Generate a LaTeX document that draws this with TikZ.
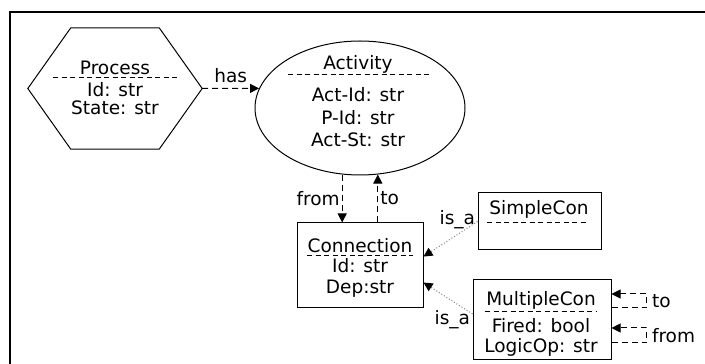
\documentclass[tikz,border=0pt]{standalone}
\usepackage{fontspec}
\setmainfont{DejaVu Sans}
\usetikzlibrary{arrows.meta,shapes.geometric,calc}

\tikzset{
  classbox/.style={draw, line width=1pt, inner sep=0pt},
  txt/.style={font=\fontsize{18.5}{22}\selectfont, inner sep=0pt, anchor=base},
  lbl/.style={font=\fontsize{18.5}{22}\selectfont, inner sep=2pt, text=black},
  uline/.style={dash pattern=on 5pt off 3.5pt, line width=0.8pt},
  dep/.style={dash pattern=on 6pt off 4pt, line width=1pt,
    -{Triangle[length=9pt,width=9pt]}},
  isa/.style={dotted, gray, line width=1pt,
    -{Triangle[length=9pt,width=9pt,color=black]}}
}

\begin{document}
\begin{tikzpicture}[x=1pt,y=1pt]
  \useasboundingbox (0,0) rectangle (705,364);
  % frame
  \draw[line width=2.5pt] (10,-5) -- (10,352) -- (710,352);

  % Process (hexagon)
  \node[minimum width=174pt, minimum height=121pt, inner sep=0pt] (process) at (115,275.5) {};
  \draw[line width=1pt] (process.west) -- ($(process.north west)+(43,0)$)
    -- ($(process.north east)+(-43,0)$) -- (process.east)
    -- ($(process.south east)+(-43,0)$) -- ($(process.south west)+(43,0)$) -- cycle;
  \node[txt] (process-title) at (115,289) {Process};
  \draw[uline] (53,287) -- (177,287);
  \foreach \t [count=\i] in {Id: str, State: str}
    \node[txt] (process-\i) at (115,{267-18*(\i-1)}) {\t};

  % Activity (ellipse)
  \node[ellipse, classbox, minimum width=210pt, minimum height=134pt] (activity) at (360,256) {};
  \node[txt] (activity-title) at (358,294) {Activity};
  \draw[uline] (288,290) -- (430,290);
  \foreach \t [count=\i] in {Act-Id: str, P-Id: str, Act-St: str}
    \node[txt] (activity-\i) at (358,{262-22.5*(\i-1)}) {\t};

  % Connection
  \node[classbox, minimum width=126pt, minimum height=85pt] (connection) at (360,98.5) {};
  \node[txt] (connection-title) at (360,111) {Connection};
  \draw[uline] (307,109) -- (413,109);
  \foreach \t [count=\i] in {Id: str, Dep:str}
    \node[txt] (connection-\i) at (360,{91-21*(\i-1)}) {\t};

  % SimpleCon
  \node[classbox, minimum width=123pt, minimum height=57pt] (simplecon) at (539.5,142.5) {};
  \node[txt] (simplecon-title) at (539,149) {SimpleCon};
  \draw[uline] (487,142) -- (588,142);

  % MultipleCon
  \node[classbox, minimum width=138pt, minimum height=80pt] (multiplecon) at (542,44) {};
  \node[txt] (multiplecon-title) at (541,58) {MultipleCon};
  \draw[uline] (485,53) -- (597,53);
  \foreach \t [count=\i] in {Fired: bool, LogicOp: str}
    \node[txt] (multiplecon-\i) at (541,{31-20*(\i-1)}) {\t};

  % relations
  \draw[dep] (process.east) -- node[lbl, above=3pt] {has} (activity.169);
  \draw[dep] (activity.255) -- node[lbl, left] {from} (activity.255 |- connection.north);
  \draw[dep] (activity.285 |- connection.north) -- node[lbl, right] {to} (activity.285);
  \draw[isa] (simplecon.west) node[lbl, anchor=east, yshift=2pt] {is\_a} -- (connection.8);
  \draw[isa] (multiplecon.175) node[lbl, anchor=east, yshift=-6pt] {is\_a} -- (connection.-15);

  % self loops
  \draw[dep] ([yshift=12pt]multiplecon.east) -- ++(35,0)
    |- node[lbl, pos=0.25, right, xshift=3pt] {to} ([yshift=26pt]multiplecon.east);
  \draw[dep] ([yshift=-23pt]multiplecon.east) -- ++(35,0)
    |- node[lbl, pos=0.25, right, xshift=3pt] {from} ([yshift=-8pt]multiplecon.east);
\end{tikzpicture}
\end{document}
